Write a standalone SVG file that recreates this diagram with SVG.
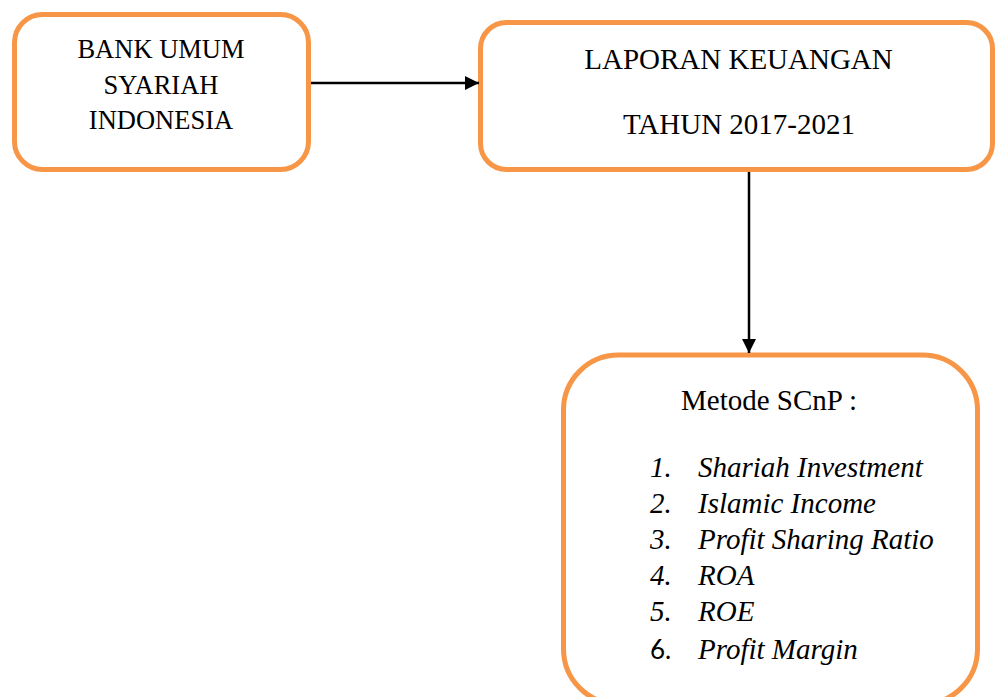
<svg xmlns="http://www.w3.org/2000/svg" width="995" height="697" viewBox="0 0 995 697">
<style>
.box{fill:#ffffff;stroke:#F79646;stroke-width:5}
.t{font-family:"Liberation Serif","Times New Roman",serif;fill:#000}
.i{font-style:italic}
.c{stroke:#000;stroke-width:2.5;fill:none}
</style>
<defs>
<marker id="ah" markerWidth="14" markerHeight="14" refX="14" refY="7" orient="auto" markerUnits="userSpaceOnUse" viewBox="0 0 14 14">
<path d="M0,0 L14,7 L0,14 Z" fill="#000"/>
</marker>
</defs>
<rect width="995" height="697" fill="#ffffff"/>
<g id="node-bank">
<rect class="box" x="14.5" y="14.5" width="294" height="155" rx="28" ry="28"/>
<text class="t" font-size="26.5" text-anchor="middle" x="161" y="58">BANK UMUM</text>
<text class="t" font-size="26.5" text-anchor="middle" x="161" y="93.5">SYARIAH</text>
<text class="t" font-size="26.5" text-anchor="middle" x="161" y="129">INDONESIA</text>
</g>
<g id="node-laporan">
<rect class="box" x="480.5" y="22.5" width="512" height="147" rx="26" ry="26"/>
<text class="t" font-size="29" text-anchor="middle" x="738.5" y="69">LAPORAN KEUANGAN</text>
<text class="t" font-size="29" text-anchor="middle" x="739" y="134">TAHUN 2017-2021</text>
</g>
<g id="node-scnp">
<rect class="box" x="563.5" y="355" width="414" height="349" rx="55" ry="55"/>
<text class="t" font-size="29" x="681" y="410">Metode SCnP :</text>
<text class="t i" font-size="29" x="650" y="477">1.</text>
<text class="t i" font-size="29" x="698" y="477">Shariah Investment</text>
<text class="t i" font-size="29" x="650" y="513">2.</text>
<text class="t i" font-size="29" x="698" y="513">Islamic Income</text>
<text class="t i" font-size="29" x="650" y="549">3.</text>
<text class="t i" font-size="29" x="698" y="549">Profit Sharing Ratio</text>
<text class="t i" font-size="29" x="650" y="585">4.</text>
<text class="t i" font-size="29" x="698" y="585">ROA</text>
<text class="t i" font-size="29" x="650" y="621">5.</text>
<text class="t i" font-size="29" x="698" y="621">ROE</text>
<text font-family="Lato,'Open Sans',sans-serif" font-size="26" fill="#000" x="650" y="659">6.</text>
<text class="t i" font-size="29" x="698" y="659">Profit Margin</text>
</g>
<g id="connectors">
<line class="c" x1="311" y1="83" x2="479" y2="83" marker-end="url(#ah)"/>
<line class="c" x1="749" y1="172" x2="749" y2="353" marker-end="url(#ah)"/>
</g>
</svg>
